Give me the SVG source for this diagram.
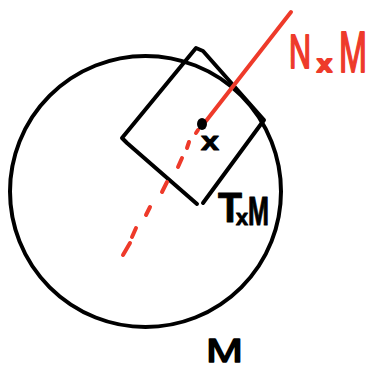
<svg xmlns="http://www.w3.org/2000/svg" width="369" height="367" viewBox="0 0 369 367">
<style>
.blk{fill:none;stroke:#000;stroke-width:4;stroke-linecap:round;stroke-linejoin:round}
.red{fill:none;stroke:#ee3a2a;stroke-width:4;stroke-linecap:round}
.lb{font-family:"Liberation Sans",Arial,sans-serif;fill:#000;stroke:#000;stroke-width:1;stroke-linejoin:round}
.lr{font-family:"Liberation Sans",Arial,sans-serif;fill:#ee3a2a;stroke:#ee3a2a;stroke-width:2;stroke-linejoin:round}
</style>
<rect width="369" height="367" fill="#fff"/>
<g id="manifold">
<circle class="blk" cx="145.5" cy="191.5" r="135.5"/>
</g>
<g id="tangent-plane">
<polyline class="blk" points="197,204 127,143 122,138 196,48 203,51 264,120 203,203"/>
</g>
<g id="connectors">
<line class="red" x1="291" y1="12" x2="206" y2="121"/>
<path class="red" d="M198,130 L196,133 M189,142 L187,148 M182,158 L178,167 M167,182 L162,192 M150,207 L146,215 M136,228 L132,237 M130,243 L123,255"/>
</g>
<g id="point-x">
<ellipse cx="202" cy="124" rx="5" ry="6" fill="#000"/>
<text class="lb" x="201" y="150" font-size="25" font-weight="bold" textLength="18" lengthAdjust="spacingAndGlyphs">x</text>
</g>
<g id="label-NxM">
<text class="lr" x="289" y="68" font-size="48" textLength="22" lengthAdjust="spacingAndGlyphs">N</text>
<text class="lr" x="317" y="72" font-size="24" font-weight="bold" textLength="15" lengthAdjust="spacingAndGlyphs">x</text>
<text class="lr" x="339" y="72" font-size="58" textLength="28" lengthAdjust="spacingAndGlyphs">M</text>
</g>
<g id="label-TxM">
<text class="lb" x="218" y="222" font-size="42" font-weight="bold" textLength="24" lengthAdjust="spacingAndGlyphs">T</text>
<text class="lb" x="236" y="225" font-size="22" font-weight="bold" textLength="12" lengthAdjust="spacingAndGlyphs">x</text>
<text class="lb" x="248" y="225" font-size="40" font-weight="bold" textLength="21" lengthAdjust="spacingAndGlyphs">M</text>
</g>
<g id="label-M">
<text class="lb" x="206" y="362" font-size="34" textLength="37" lengthAdjust="spacingAndGlyphs" style="stroke-width:1.5">M</text>
</g>
</svg>
